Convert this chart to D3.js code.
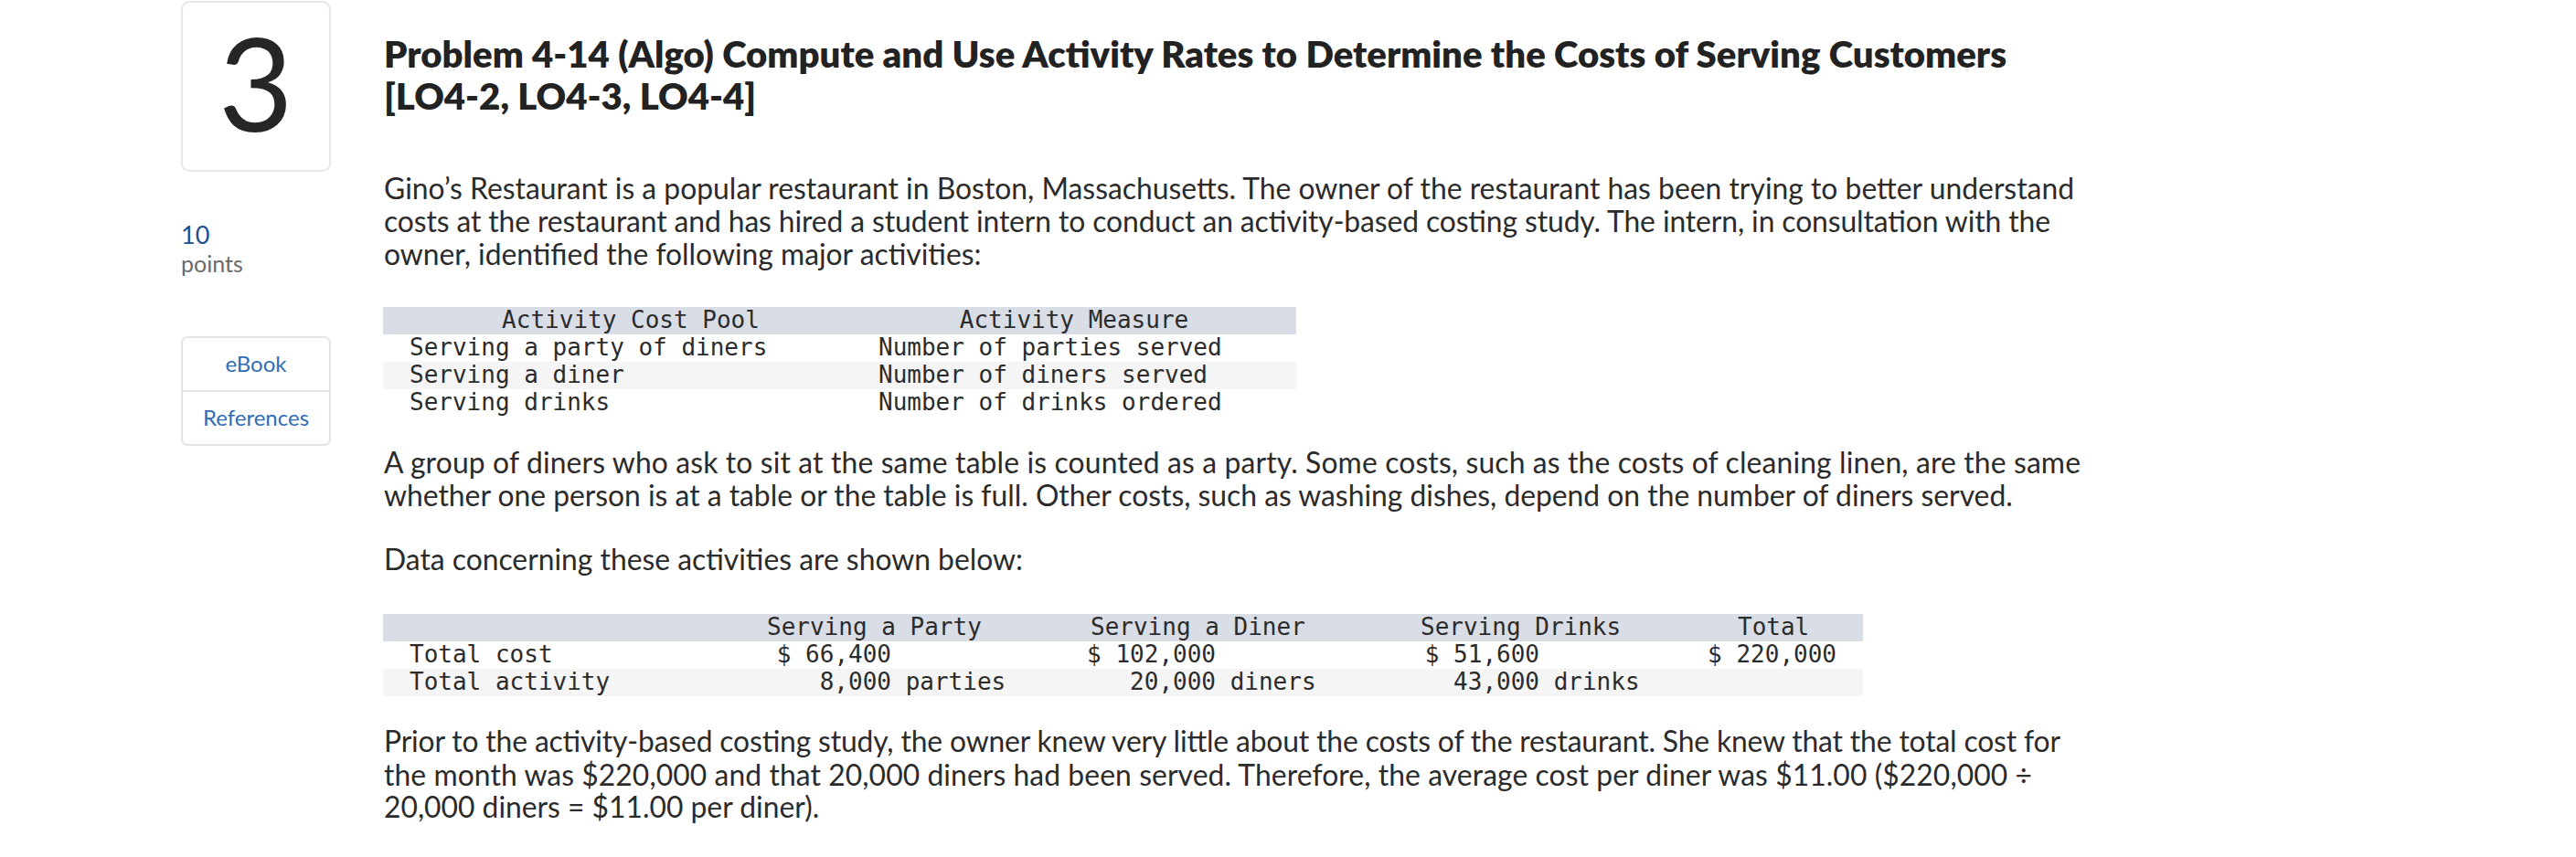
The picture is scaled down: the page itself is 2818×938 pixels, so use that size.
<!DOCTYPE html>
<html>
<head>
<meta charset="utf-8">
<script src="https://cdn.jsdelivr.net/npm/d3@7"></script>
<style>
  html, body { margin: 0; padding: 0; background: #ffffff; }
  svg { display: block; }
</style>
</head>
<body>
<script>
// ---------------- data ----------------
const problemNumber = "3";
const pointsValue = "10";
const pointsLabel = "points";
const sideLinks = ["eBook", "References"];

const titleLines = [
  "Problem 4-14 (Algo) Compute and Use Activity Rates to Determine the Costs of Serving Customers",
  "[LO4-2, LO4-3, LO4-4]"
];
const introLines = [
  "Gino\u2019s Restaurant is a popular restaurant in Boston, Massachusetts. The owner of the restaurant has been trying to better understand",
  "costs at the restaurant and has hired a student intern to conduct an activity-based costing study. The intern, in consultation with the",
  "owner, identified the following major activities:"
];
const partyLines = [
  "A group of diners who ask to sit at the same table is counted as a party. Some costs, such as the costs of cleaning linen, are the same",
  "whether one person is at a table or the table is full. Other costs, such as washing dishes, depend on the number of diners served."
];
const dataLines = ["Data concerning these activities are shown below:"];
const priorLines = [
  "Prior to the activity-based costing study, the owner knew very little about the costs of the restaurant. She knew that the total cost for",
  "the month was $220,000 and that 20,000 diners had been served. Therefore, the average cost per diner was $11.00 ($220,000 \u00f7",
  "20,000 diners = $11.00 per diner)."
];

const activityHeaders = ["Activity Cost Pool", "Activity Measure"];
const activityCostPools = ["Serving a party of diners", "Serving a diner", "Serving drinks"];
const activityMeasures = ["Number of parties served", "Number of diners served", "Number of drinks ordered"];

const costColumns = ["Serving a Party", "Serving a Diner", "Serving Drinks", "Total"];
const rowLabels = ["Total cost", "Total activity"];
const totalCost = [66400, 102000, 51600, 220000];
const totalActivity = [8000, 20000, 43000, null];
const activityUnits = ["parties", "diners", "drinks", ""];

// ---------------- layout ----------------
const W = 2818, H = 938;
const SANS = "Lato, 'Noto Sans', 'DejaVu Sans', sans-serif";
const MONO = "'DejaVu Sans Mono', 'Liberation Mono', monospace";
const TEXT = "#2b2b2b";
const CONTENT_X = 420;

const svg = d3.select("body").append("svg")
  .attr("width", W).attr("height", H)
  .attr("viewBox", [0, 0, W, H]);

function measure(str, size, weight) {
  const t = svg.append("text").attr("font-family", SANS).attr("font-weight", weight)
    .attr("font-size", size).text(str);
  const w = t.node().getComputedTextLength();
  t.remove();
  return w;
}

// font size such that the wrapped (full) lines reach their measured right edges
function fitSize(lineSets, weight) {
  let nat = 0, tgt = 0;
  lineSets.forEach(([lines, edges]) => {
    lines.forEach((l, i) => {
      if (i < lines.length - 1) { nat += measure(l, 100, weight); tgt += edges[i] - CONTENT_X; }
    });
  });
  return 100 * tgt / nat;
}

function paragraph(lines, baselines, rightEdges, size, weight, color) {
  const g = svg.append("g");
  g.selectAll("text").data(lines).join("text")
    .attr("x", CONTENT_X)
    .attr("y", (d, i) => baselines[i])
    .attr("font-family", SANS)
    .attr("font-weight", weight)
    .attr("font-size", size)
    .attr("fill", color)
    .each(function(d, i) {
      if (i < lines.length - 1) {
        d3.select(this).attr("textLength", rightEdges[i] - CONTENT_X).attr("lengthAdjust", "spacing");
      }
    })
    .text(d => d);
  return g;
}

// ---------------- sidebar ----------------
svg.append("rect")
  .attr("x", 199).attr("y", 2).attr("width", 162).attr("height", 185)
  .attr("rx", 8).attr("fill", "#fff").attr("stroke", "#e6e6e6").attr("stroke-width", 2);
svg.append("text")
  .attr("x", 280).attr("y", 144).attr("text-anchor", "middle")
  .attr("font-family", SANS).attr("font-weight", 400).attr("font-size", 141)
  .attr("fill", "#262626").text(problemNumber);

svg.append("text")
  .attr("x", 198).attr("y", 267)
  .attr("font-family", SANS).attr("font-size", 27).attr("fill", "#1d4f91")
  .text(pointsValue);
svg.append("text")
  .attr("x", 198).attr("y", 298)
  .attr("font-family", SANS).attr("font-size", 25).attr("fill", "#6a6a6a")
  .text(pointsLabel);

const linkBand = d3.scaleBand().domain(sideLinks).range([369, 487]);
svg.append("rect")
  .attr("x", 199).attr("y", 369).attr("width", 162).attr("height", 118)
  .attr("rx", 6).attr("fill", "#fff").attr("stroke", "#e4e4e4").attr("stroke-width", 2);
svg.append("line")
  .attr("x1", 199).attr("x2", 361)
  .attr("y1", linkBand(sideLinks[1])).attr("y2", linkBand(sideLinks[1]))
  .attr("stroke", "#e4e4e4").attr("stroke-width", 2);
svg.selectAll("text.link").data(sideLinks).join("text")
  .attr("class", "link")
  .attr("x", 280).attr("y", d => linkBand(d) + linkBand.bandwidth() / 2 + 8)
  .attr("text-anchor", "middle")
  .attr("font-family", SANS).attr("font-size", 24).attr("fill", "#2f6db5")
  .text(d => d);

// ---------------- title & paragraphs ----------------
const titleEdges = [2195, 807];
const titleSize = fitSize([[titleLines, titleEdges]], 800);
paragraph(titleLines, [74, 120], titleEdges, titleSize, 800, "#222222");

const introEdges = [2269, 2243, 1163];
const partyEdges = [2276, 2217];
const dataEdges = [1120];
const priorEdges = [2254, 2223, 884];
const bodySize = fitSize([[introLines, introEdges], [partyLines, partyEdges], [priorLines, priorEdges]], 400);

paragraph(introLines, [218, 254, 290], introEdges, bodySize, 400, TEXT);
paragraph(partyLines, [518, 554], partyEdges, bodySize, 400, TEXT);
paragraph(dataLines, [624], dataEdges, bodySize, 400, TEXT);
paragraph(priorLines, [823, 860, 895], priorEdges, bodySize, 400, TEXT);

// ---------------- table 1 ----------------
const MONO_SIZE = 26;
const rows1 = ["header", ...activityCostPools];
const y1 = d3.scaleBand().domain(rows1).range([336, 456]);
const t1x = [419, 1418];
const t1 = svg.append("g");
t1.selectAll("rect").data(rows1).join("rect")
  .attr("x", t1x[0]).attr("width", t1x[1] - t1x[0])
  .attr("y", d => y1(d)).attr("height", y1.bandwidth())
  .attr("fill", (d, i) => i === 0 ? "#d9dde6" : (i % 2 === 0 ? "#f5f5f5" : "#ffffff"));
const headCenters1 = d3.scaleOrdinal().domain(activityHeaders).range([690, 1175]);
t1.selectAll("text.h").data(activityHeaders).join("text")
  .attr("class", "h")
  .attr("x", d => headCenters1(d)).attr("y", y1("header") + 23)
  .attr("text-anchor", "middle")
  .attr("font-family", MONO).attr("font-size", MONO_SIZE).attr("fill", TEXT)
  .text(d => d);
t1.selectAll("text.pool").data(activityCostPools).join("text")
  .attr("class", "pool")
  .attr("x", 448).attr("y", d => y1(d) + 23)
  .attr("font-family", MONO).attr("font-size", MONO_SIZE).attr("fill", TEXT)
  .text(d => d);
t1.selectAll("text.meas").data(activityMeasures).join("text")
  .attr("class", "meas")
  .attr("x", 961).attr("y", (d, i) => y1(activityCostPools[i]) + 23)
  .attr("font-family", MONO).attr("font-size", MONO_SIZE).attr("fill", TEXT)
  .text(d => d);

// ---------------- table 2 ----------------
const rows2 = ["header", ...rowLabels];
const y2 = d3.scaleBand().domain(rows2).range([672, 762]);
const t2x = [419, 2038];
const t2 = svg.append("g");
t2.selectAll("rect").data(rows2).join("rect")
  .attr("x", t2x[0]).attr("width", t2x[1] - t2x[0])
  .attr("y", d => y2(d)).attr("height", y2.bandwidth())
  .attr("fill", (d, i) => i === 0 ? "#d9dde6" : (i % 2 === 0 ? "#f5f5f5" : "#ffffff"));

const headStart = d3.scaleOrdinal().domain(costColumns).range([839, 1193, 1554, 1901]);
const valueEdge = d3.scaleOrdinal().domain(costColumns).range([975, 1330, 1684, 2009]);
const charW = MONO_SIZE * 0.602;
const fmt = d3.format(",");

t2.selectAll("text.h").data(costColumns).join("text")
  .attr("class", "h")
  .attr("x", d => headStart(d)).attr("y", y2("header") + 23)
  .attr("font-family", MONO).attr("font-size", MONO_SIZE).attr("fill", TEXT)
  .text(d => d);
t2.selectAll("text.lab").data(rowLabels).join("text")
  .attr("class", "lab")
  .attr("x", 448).attr("y", d => y2(d) + 23)
  .attr("font-family", MONO).attr("font-size", MONO_SIZE).attr("fill", TEXT)
  .text(d => d);
t2.selectAll("text.cost").data(totalCost).join("text")
  .attr("class", "cost")
  .attr("x", (d, i) => valueEdge(costColumns[i])).attr("y", y2(rowLabels[0]) + 23)
  .attr("text-anchor", "end")
  .attr("font-family", MONO).attr("font-size", MONO_SIZE).attr("fill", TEXT)
  .text(d => "$ " + fmt(d));
const actData = totalActivity.map((v, i) => ({ v, unit: activityUnits[i], col: costColumns[i] })).filter(d => d.v != null);
t2.selectAll("text.act").data(actData).join("text")
  .attr("class", "act")
  .attr("x", d => valueEdge(d.col)).attr("y", y2(rowLabels[1]) + 23)
  .attr("text-anchor", "end")
  .attr("font-family", MONO).attr("font-size", MONO_SIZE).attr("fill", TEXT)
  .text(d => fmt(d.v));
t2.selectAll("text.unit").data(actData).join("text")
  .attr("class", "unit")
  .attr("x", d => valueEdge(d.col) + charW).attr("y", y2(rowLabels[1]) + 23)
  .attr("font-family", MONO).attr("font-size", MONO_SIZE).attr("fill", TEXT)
  .text(d => d.unit);
</script>
</body>
</html>
